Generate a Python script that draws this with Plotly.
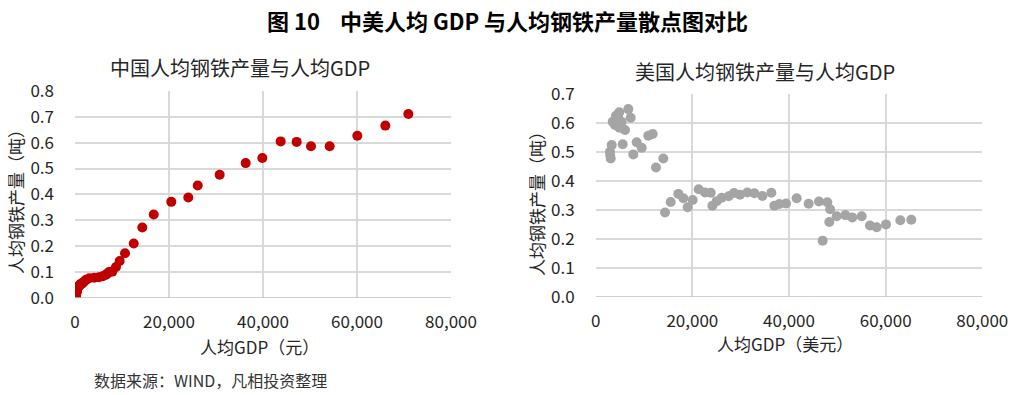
import plotly.graph_objects as go

# ---- data ----
cn_gdp = [119, 142, 144, 150, 166, 209, 216, 218, 220, 183, 173, 181, 208, 240, 254, 235, 222,
          243, 276, 285, 292, 309, 310, 327, 316, 339, 385, 423, 468, 492, 528, 583, 695, 858,
          963, 1123, 1366, 1536, 1663, 1912, 2334, 3027, 4081, 5091, 5898, 6481, 6860, 7229,
          7942, 8717, 9506, 10638, 12489, 14319, 16745, 20489, 24106, 26106, 30780, 36312,
          39858, 43759, 47163, 50213, 54184, 60071, 66028, 70922]
cn_steel = [0.0023, 0.0030, 0.0036, 0.0046, 0.0071, 0.0083, 0.0122, 0.0193, 0.0280, 0.0132,
            0.0100, 0.0110, 0.0140, 0.0170, 0.0207, 0.0136, 0.0115, 0.0166, 0.0216, 0.0246,
            0.0268, 0.0284, 0.0233, 0.0260, 0.0219, 0.0252, 0.0330, 0.0356, 0.0377, 0.0356,
            0.0367, 0.0389, 0.0418, 0.0443, 0.0488, 0.0519, 0.0536, 0.0551, 0.0582, 0.0617,
            0.0690, 0.0750, 0.0770, 0.0790, 0.0830, 0.0880, 0.0930, 0.0990, 0.1010, 0.1190,
            0.1420, 0.1720, 0.2100, 0.2720, 0.3220, 0.3710, 0.3880, 0.4340, 0.4760, 0.5210,
            0.5410, 0.6050, 0.6030, 0.5860, 0.5860, 0.6270, 0.6660, 0.7110]

us_gdp = [2960, 3000, 3104, 3310, 3517, 4200, 4676, 3993, 5380, 4883,
          4883, 5587, 6062, 6745, 7240, 7780, 8483, 9518, 10883, 11793,
          12477, 13987, 14345, 15520, 17100, 18140, 19035, 20070, 21310, 22620,
          23795, 24140, 25035, 26070, 27520, 28620, 29865, 31380, 32830, 34485,
          36350, 36970, 38000, 39380, 41590, 44070, 46210, 47930, 48500, 46970,
          48345, 49865, 51655, 53105, 55035, 56760, 58140, 60070, 63035, 65310]
us_steel = [0.500, 0.489, 0.477, 0.523, 0.603, 0.624, 0.615, 0.592, 0.603, 0.636,
            0.583, 0.526, 0.575, 0.647, 0.617, 0.491, 0.533, 0.514, 0.555, 0.561,
            0.446, 0.477, 0.291, 0.327, 0.355, 0.340, 0.309, 0.334, 0.371, 0.360,
            0.359, 0.314, 0.330, 0.342, 0.347, 0.358, 0.352, 0.360, 0.357, 0.348,
            0.359, 0.314, 0.320, 0.322, 0.340, 0.321, 0.329, 0.326, 0.302, 0.194,
            0.258, 0.278, 0.282, 0.274, 0.278, 0.246, 0.240, 0.250, 0.264, 0.266]

x_ticks = [0, 20000, 40000, 60000, 80000]
cn_y_ticks = [0.0, 0.1, 0.2, 0.3, 0.4, 0.5, 0.6, 0.7, 0.8]
us_y_ticks = [0.0, 0.1, 0.2, 0.3, 0.4, 0.5, 0.6, 0.7]

main_title = "图 10&nbsp;&nbsp;&nbsp; 中美人均 GDP 与人均钢铁产量散点图对比"
cn_title = "中国人均钢铁产量与人均GDP"
us_title = "美国人均钢铁产量与人均GDP"
cn_xtitle = "人均GDP（元）"
us_xtitle = "人均GDP（美元）"
ytitle = "人均钢铁产量（吨）"
source = "数据来源：WIND，凡相投资整理"

W, H = 1013, 395
FONT = "Noto Sans CJK SC"
TXT = "#262626"

fig = go.Figure()
fig.add_trace(go.Scatter(x=cn_gdp, y=cn_steel, mode="markers",
                         marker=dict(color="#C00000", size=10),
                         xaxis="x", yaxis="y", showlegend=False))
fig.add_trace(go.Scatter(x=us_gdp, y=us_steel, mode="markers",
                         marker=dict(color="#A5A5A5", size=10),
                         xaxis="x2", yaxis="y2", showlegend=False))

grid = "#D9D9D9"
common_x = dict(range=[0, 80000], tickvals=x_ticks, tickformat=",", showgrid=True,
                gridcolor=grid, gridwidth=1.5, zeroline=False, showline=False,
                ticks="", fixedrange=True, automargin=False)
common_y = dict(showgrid=True, gridcolor=grid, gridwidth=1.5, zeroline=False,
                showline=False, ticks="", tickformat=".1f", fixedrange=True,
                automargin=False)

fig.update_layout(
    width=W, height=H,
    margin=dict(l=0, r=0, t=0, b=0),
    paper_bgcolor="white", plot_bgcolor="white",
    font=dict(family=FONT, color=TXT),
    xaxis=dict(domain=[75 / W, 451 / W], anchor="y",
               tickfont=dict(size=17, color=TXT, family=FONT), ticklabelstandoff=12,
               **common_x),
    yaxis=dict(domain=[1 - 297.7 / H, 1 - 91 / H], anchor="x", range=[0, 0.8],
               tickvals=cn_y_ticks, tickfont=dict(size=17, color=TXT, family=FONT),
               ticklabelstandoff=20, **common_y),
    xaxis2=dict(domain=[595.7 / W, 982.3 / W], anchor="y2",
                tickfont=dict(size=17, color=TXT, family=FONT), ticklabelstandoff=12,
                **common_x),
    yaxis2=dict(domain=[1 - 297 / H, 1 - 93.7 / H], anchor="x2", range=[0, 0.7],
                tickvals=us_y_ticks, tickfont=dict(size=17, color=TXT, family=FONT),
                ticklabelstandoff=20, **common_y),
)

# bottom axis lines (slightly darker)
fig.add_shape(type="line", xref="x", yref="y", x0=0, x1=80000, y0=0, y1=0,
              line=dict(color="#BFBFBF", width=1.5))
fig.add_shape(type="line", xref="x2", yref="y2", x0=0, x1=80000, y0=0, y1=0,
              line=dict(color="#BFBFBF", width=1.5))

ann = [
    dict(text="<b>" + main_title + "</b>", x=507 / W, y=1 - 20 / H, size=22, color="#000000"),
    dict(text=cn_title, x=240 / W, y=1 - 67 / H, size=20, color=TXT),
    dict(text=us_title, x=765 / W, y=1 - 72 / H, size=20, color=TXT),
    dict(text=cn_xtitle, x=259 / W, y=1 - 346 / H, size=17, color=TXT),
    dict(text=us_xtitle, x=785 / W, y=1 - 343 / H, size=17, color=TXT),
    dict(text=ytitle, x=15 / W, y=1 - 198 / H, size=17, color=TXT, angle=-90),
    dict(text=ytitle, x=536 / W, y=1 - 200 / H, size=17, color=TXT, angle=-90),
    dict(text=source, x=210 / W, y=1 - 380 / H, size=16, color="#333333"),
]
for a in ann:
    fig.add_annotation(text=a["text"], x=a["x"], y=a["y"], xref="paper", yref="paper",
                       xanchor="center", yanchor="middle", showarrow=False,
                       textangle=a.get("angle", 0),
                       font=dict(size=a["size"], color=a["color"], family=FONT))

fig.write_html("out.html", config={"displayModeBar": False},
               post_script="document.body.style.margin='0';document.body.style.padding='0';")
